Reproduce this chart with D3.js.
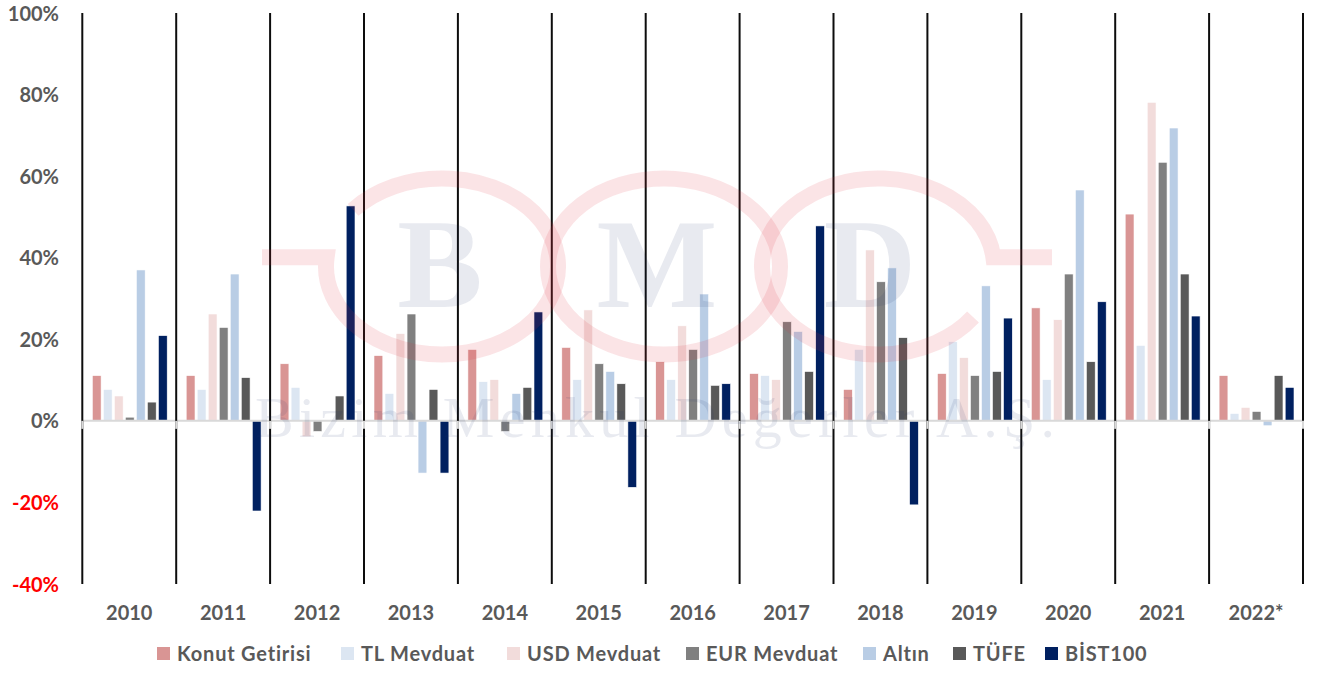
<!DOCTYPE html>
<html>
<head>
<meta charset="utf-8">
<script src="https://cdn.jsdelivr.net/npm/d3@7"></script>
<style>
  html, body { margin: 0; padding: 0; background: #ffffff; }
  svg { display: block; }
</style>
</head>
<body>
<svg id="chart" width="1317" height="673"></svg>
<script>
const years = ["2010","2011","2012","2013","2014","2015","2016","2017","2018","2019","2020","2021","2022*"];
const seriesNames = ["Konut Getirisi","TL Mevduat","USD Mevduat","EUR Mevduat","Altın","TÜFE","BİST100"];
const seriesColors = ["#D99594","#DCE6F2","#F2DCDB","#808080","#B9CDE5","#595959","#002060"];

const konut = [11.1, 11.1, 14.0, 16.0, 17.5, 18.0, 14.5, 11.6, 7.7, 11.6, 27.7, 50.7, 11.1];
const tlMevduat = [7.7, 7.7, 8.2, 6.7, 9.6, 10.1, 10.1, 11.1, 17.5, 19.4, 10.1, 18.5, 1.8];
const usdMevduat = [6.1, 26.2, -3.9, 21.4, 10.1, 27.2, 23.3, 10.1, 41.9, 15.5, 24.8, 78.1, 3.3];
const eurMevduat = [0.9, 22.9, -2.6, 26.2, -2.6, 14.0, 17.5, 24.3, 34.1, 11.1, 36.0, 63.4, 2.3];
const altin = [37.0, 36.0, 0.0, -12.8, 6.7, 12.1, 31.1, 21.9, 37.5, 33.1, 56.6, 71.8, -1.2];
const tufe = [4.6, 10.6, 6.1, 7.7, 8.2, 9.1, 8.7, 12.1, 20.4, 12.1, 14.5, 36.0, 11.1];
const bist100 = [20.9, -22.1, 52.7, -12.8, 26.7, -16.3, 9.1, 47.8, -20.6, 25.2, 29.2, 25.7, 8.2];

const yTicks = [-40, -20, 0, 20, 40, 60, 80, 100];

const seriesValues = [konut, tlMevduat, usdMevduat, eurMevduat, altin, tufe, bist100];

const svg = d3.select("#chart");
const sans = "Lato, 'Open Sans', sans-serif";
const serif = "'Liberation Serif', 'DejaVu Serif', serif";

const x0 = d3.scaleBand().domain(years).range([82.3, 1303]).paddingInner(0).paddingOuter(0);
const x1 = d3.scaleBand().domain(seriesNames).range([10, x0.bandwidth() - 9]).paddingInner(0.2).paddingOuter(0);
const y = d3.scaleLinear().domain([-40, 100]).range([584, 13]);

// bars
const data = [];
years.forEach((yr, i) => {
  seriesNames.forEach((s, j) => {
    data.push({ year: yr, series: s, value: seriesValues[j][i], color: seriesColors[j] });
  });
});

svg.append("g").selectAll("rect").data(data).join("rect")
  .attr("x", d => x0(d.year) + x1(d.series))
  .attr("width", x1.bandwidth())
  .attr("y", d => y(Math.max(0, d.value)))
  .attr("height", d => Math.abs(y(d.value) - y(0)))
  .attr("fill", d => d.color)
  .attr("stroke", "#ffffff")
  .attr("stroke-width", 0.6);

// zero line
svg.append("line")
  .attr("x1", x0.range()[0]).attr("x2", x0.range()[1])
  .attr("y1", y(0)).attr("y2", y(0))
  .attr("stroke", "#d9d9d9").attr("stroke-width", 2);

// category separators
const bounds = years.map(d => x0(d)).concat([x0.range()[1]]);
svg.append("g").selectAll("line").data(bounds).join("line")
  .attr("x1", d => d).attr("x2", d => d)
  .attr("y1", y(100)).attr("y2", y(-40))
  .attr("stroke", "#0d0d0d").attr("stroke-width", 2);

// small gray ticks at zero line
svg.append("g").selectAll("line").data(bounds).join("line")
  .attr("x1", d => d).attr("x2", d => d)
  .attr("y1", y(0)).attr("y2", y(0) + 8)
  .attr("stroke", "#d9d9d9").attr("stroke-width", 2);

// y axis labels
const yAxis = d3.axisLeft(y).tickValues(yTicks).tickFormat(d => d + "%").tickSize(0).tickPadding(0);
const yg = svg.append("g").attr("transform", "translate(59,0)").call(yAxis);
yg.select(".domain").remove();
yg.selectAll("text")
  .style("font-size", "20px")
  .style("font-family", sans)
  .style("font-weight", "bold")
  .attr("fill", d => d < 0 ? "#ff0000" : "#595959")
  .attr("dy", "0.35em");

// x axis labels
const xAxis = d3.axisBottom(x0).tickSize(0).tickPadding(0);
const xg = svg.append("g").attr("transform", "translate(0,613)").call(xAxis);
xg.select(".domain").remove();
xg.selectAll("text")
  .style("font-size", "20px")
  .style("font-family", sans)
  .style("font-weight", "bold")
  .attr("fill", "#595959")
  .attr("dy", "0.35em");

// legend
const legendX = [157, 341, 507, 686, 863, 953, 1045];
const lg = svg.append("g").selectAll("g").data(seriesNames).join("g")
  .attr("transform", (d, i) => `translate(${legendX[i]},647)`);
lg.append("rect").attr("width", 13).attr("height", 13).attr("fill", (d, i) => seriesColors[i]);
lg.append("text").attr("x", 20).attr("y", 7).attr("dy", "0.35em")
  .style("font-size", "20px").style("font-family", sans).style("font-weight", "bold")
  .style("letter-spacing", "0.8px")
  .attr("fill", "#595959")
  .text(d => d);

// watermark (semi-transparent, on top)
const wm = svg.append("g").attr("pointer-events", "none");
const pink = "rgba(224,48,63,0.13)";
const cy = 266.5, rx = 116, ry = 88;
function pt(cx, deg) {
  const a = deg * Math.PI / 180;
  return [cx + rx * Math.cos(a), cy - ry * Math.sin(a)];
}
// ring 1 (rotated G, opening upper-left, tail to the left)
{
  const cx = 442;
  const s = pt(cx, 140), e = pt(cx, 174);
  wm.append("path")
    .attr("d", `M${s[0]},${s[1]} A${rx},${ry} 0 1 1 ${e[0]},${e[1]} L262,${e[1]}`)
    .attr("fill", "none").attr("stroke", pink).attr("stroke-width", 16);
}
// ring 2 full
wm.append("ellipse").attr("cx", 664).attr("cy", cy).attr("rx", rx).attr("ry", ry)
  .attr("fill", "none").attr("stroke", pink).attr("stroke-width", 16);
// ring 3 (G, opening lower-right, tail to the right)
{
  const cx = 878;
  const s = pt(cx, -35), e = pt(cx, 6);
  wm.append("path")
    .attr("d", `M${s[0]},${s[1]} A${rx},${ry} 0 1 1 ${e[0]},${e[1]} L1052,${e[1]}`)
    .attr("fill", "none").attr("stroke", pink).attr("stroke-width", 16);
}
const lav = "rgba(31,48,112,0.10)";
[["B", 440], ["M", 657], ["D", 870]].forEach(([t, xx]) => {
  wm.append("text").attr("x", xx).attr("y", 307).attr("text-anchor", "middle")
    .style("font-family", serif).style("font-weight", "bold")
    .style("font-size", "128px").attr("fill", lav).text(t);
});
wm.append("text").attr("x", 255).attr("y", 437)
  .style("font-family", serif).style("font-weight", "normal")
  .style("font-size", "58px").attr("fill", lav)
  .attr("textLength", 800).attr("lengthAdjust", "spacing")
  .text("Bizim Menkul Değerler A.Ş.");
</script>
</body>
</html>
